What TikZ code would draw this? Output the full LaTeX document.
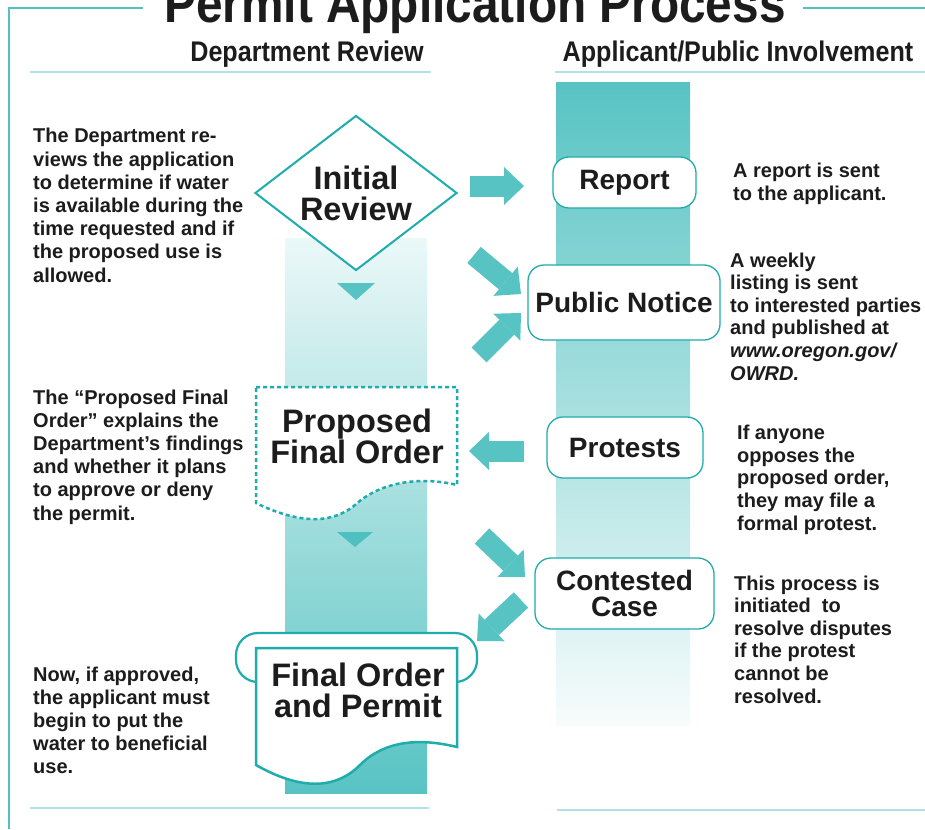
\documentclass[tikz,border=0pt]{standalone}
\usepackage{fontspec}
\setmainfont{Liberation Sans}
\newfontfamily\condfont{Liberation Sans}[FakeStretch=0.885]
\usetikzlibrary{shapes.geometric,arrows.meta}
\definecolor{tealA}{RGB}{88,195,195}
\definecolor{tealB}{RGB}{30,172,172}
\definecolor{frameC}{RGB}{85,192,192}
\definecolor{ruleC}{RGB}{180,226,226}
\definecolor{inkC}{RGB}{28,28,28}
\tikzset{
  blockarrow/.style={draw=tealA, line width=21pt, -{Triangle[width=38pt,length=20pt,line width=0pt]}},
  pbox/.style={draw=tealB, line width=1.3pt, fill=white, rounded corners=16pt, inner sep=0pt,
    font=\bfseries\fontsize{28}{26}\selectfont, align=center, text=inkC},
  bigtxt/.style={font=\bfseries\fontsize{32.5}{31}\selectfont, align=center, text=inkC, inner sep=0pt},
  desc/.style={font=\bfseries\fontsize{20}{23.2}\selectfont, align=left, text=inkC, inner sep=0pt, anchor=base west},
  rdesc/.style={desc, font=\bfseries\fontsize{20}{22.6}\selectfont},
  hdr/.style={font=\condfont\bfseries\fontsize{28.4}{30}\selectfont, text=inkC, inner sep=0pt, anchor=base},
  rulel/.style={draw=ruleC, line width=1.6pt},
  framel/.style={draw=frameC, line width=2.5pt},
}
\begin{document}
\begin{tikzpicture}[x=1pt,y=-1pt]
\useasboundingbox (0,0) rectangle (925,829);
\clip (0,0) rectangle (925,829);
\fill[white] (0,0) rectangle (925,829);

% columns
\shade[top color=tealA, bottom color=tealA!5] (556,83) rectangle (690,725);
\shade[top color=tealA!12, bottom color=tealA] (285,238) rectangle (427,793);

% frame and rules
\draw[framel] (143,8) -- (9,8) -- (9,829);
\draw[framel] (803,8) -- (925,8);
\draw[rulel] (30,72) -- (431,72);
\draw[rulel] (555,72) -- (925,72);
\draw[rulel] (30,808) -- (429,808);
\draw[rulel] (557,810) -- (925,810);

% title and headers
\node[anchor=base, inner sep=0pt, text=inkC, font=\condfont\bfseries\fontsize{54}{54}\selectfont] (title) at (475,23) {Permit Application Process};
\node[hdr] (h1) at (307,62) {Department Review};
\node[hdr] (h2) at (738,62) {Applicant/Public Involvement};

% diamond
\node[diamond, aspect=1.3, draw=tealB, line width=2pt, fill=white, minimum width=202pt, minimum height=155pt, bigtxt] (ir) at (356,193) {Initial\\Review};

% down triangles
\fill[tealA] (337,283) -- (375,283) -- (356,300) -- cycle;

% proposed final order document
\draw[tealB, line width=2.5pt, dash pattern=on 4pt off 3pt, fill=white]
  (256,387) -- (457,387) -- (457,485) .. controls (420,476) and (380,482) .. (355,505)
  .. controls (330,526) and (295,522) .. (256,503) -- cycle;
\node[bigtxt, anchor=base] (pfo) at (357,463) {Proposed\\Final Order};
\fill[tealA!85!tealB] (337,532) -- (373,532) -- (355,547) -- cycle;

% final order and permit
\draw[tealB, line width=2.2pt, fill=white, rounded corners=22pt] (236,633) rectangle (477,682);
\draw[tealB, line width=2.5pt, fill=white]
  (256,648) -- (457,648) -- (457,747) .. controls (420,738) and (385,740) .. (360,765)
  .. controls (335,790) and (300,790) .. (256,765) -- cycle;
\node[bigtxt, anchor=base] (fop) at (358,717) {Final Order\\and Permit};

% right boxes
\node[pbox, minimum width=143pt, minimum height=51pt] (report) at (624.5,182.5) {Report};
\node[pbox, minimum width=192pt, minimum height=75pt] (pn) at (624,302.5) {Public Notice};
\node[pbox, minimum width=156pt, minimum height=61pt] (protests) at (625,447.5) {Protests};
\node[pbox, minimum width=179pt, minimum height=71pt] (cc) at (624.5,593.5) {Contested\\Case};

% block arrows
\coordinate (a1s) at (470,186); \coordinate (a1e) at (524,186);
\coordinate (a2s) at (474,255); \coordinate (a2e) at (521,294);
\coordinate (a3s) at (479,355); \coordinate (a3e) at (521,313);
\coordinate (a4s) at (524,451); \coordinate (a4e) at (469,451);
\coordinate (a5s) at (482,536); \coordinate (a5e) at (525,577);
\coordinate (a6s) at (521,600); \coordinate (a6e) at (477,641);
\draw[blockarrow] (a1s) -- (a1e);
\draw[blockarrow] (a2s) -- (a2e);
\draw[blockarrow] (a3s) -- (a3e);
\draw[blockarrow] (a4s) -- (a4e);
\draw[blockarrow] (a5s) -- (a5e);
\draw[blockarrow] (a6s) -- (a6e);

% left descriptions (anchor = baseline of last line)
\node[desc] (d1) at (33,282) {The Department re-\\views the application\\to determine if water\\is available during the\\time requested and if\\the proposed use is\\allowed.};
\node[desc] (d2) at (33,520) {The “Proposed Final\\Order” explains the\\Department’s findings\\and whether it plans\\to approve or deny\\the permit.};
\node[desc, font=\bfseries\fontsize{20}{22.8}\selectfont] (d3) at (33,773) {Now, if approved,\\the applicant must\\begin to put the\\water to beneficial\\use.};

% right descriptions
\node[rdesc] (r1) at (733,200) {A report is sent\\to the applicant.};
\node[rdesc] (r2) at (730,380) {A weekly\\listing is sent\\to interested parties\\and published at\\\textit{www.oregon.gov/}\\\textit{OWRD.}};
\node[rdesc] (r3) at (737,530) {If anyone\\opposes the\\proposed order,\\they may file a\\formal protest.};
\node[rdesc] (r4) at (734,703) {This process is\\initiated~ to\\resolve disputes\\if the protest\\cannot be\\resolved.};
\end{tikzpicture}
\end{document}
